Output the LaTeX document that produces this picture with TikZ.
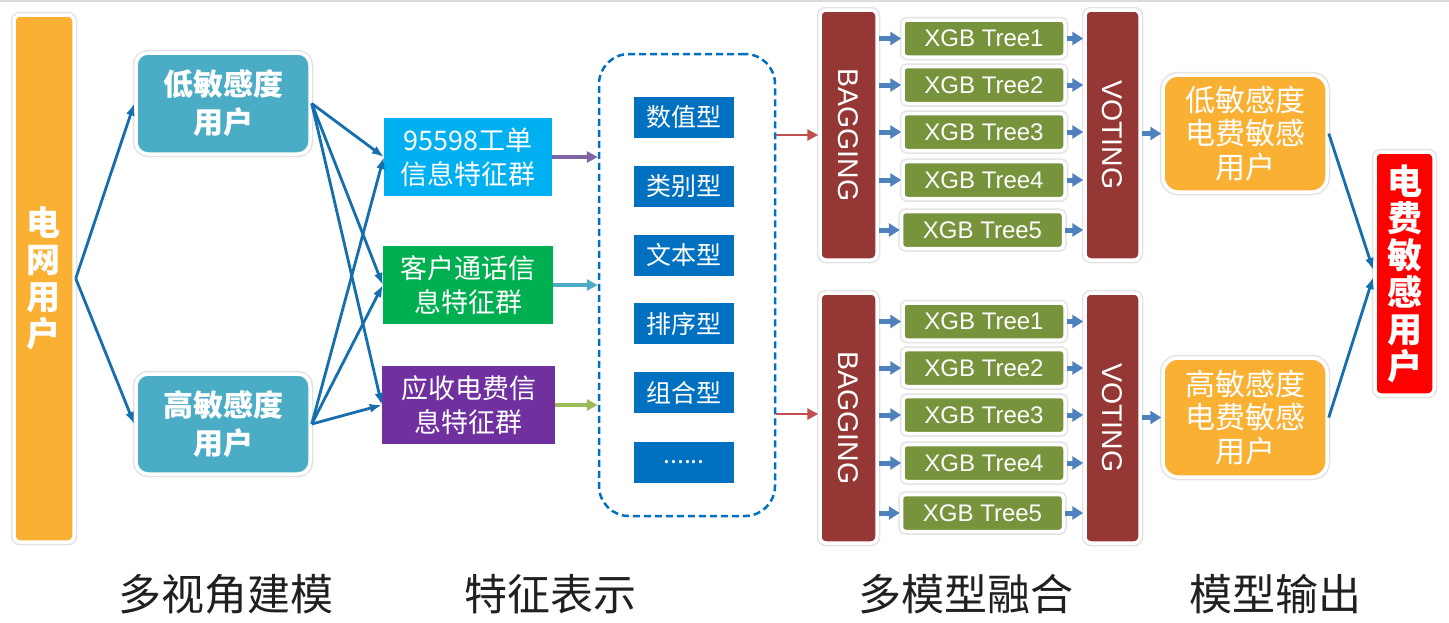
\documentclass[tikz,border=0pt]{standalone}
\usepackage{fontspec}
\setmainfont{Liberation Sans}
\newfontfamily\cjk{Noto Sans CJK SC}
\usetikzlibrary{arrows.meta,calc}

\definecolor{cOrange}{HTML}{FAB133}
\definecolor{cTeal}{HTML}{4BACC6}
\definecolor{cCyan}{HTML}{00B0F0}
\definecolor{cGreen}{HTML}{00B050}
\definecolor{cPurple}{HTML}{7030A0}
\definecolor{cBlue}{HTML}{0070C0}
\definecolor{cWine}{HTML}{953735}
\definecolor{cOlive}{HTML}{77933C}
\definecolor{cRed}{HTML}{FF0000}
\definecolor{cLink}{HTML}{156EAE}
\definecolor{cSteel}{HTML}{4F81BD}
\definecolor{cArrRed}{HTML}{C0504D}
\definecolor{cArrPur}{HTML}{8064A2}
\definecolor{cArrTeal}{HTML}{4BACC6}
\definecolor{cArrGreen}{HTML}{9BBB59}
\definecolor{cCaption}{HTML}{231F20}

\begin{document}
\begin{tikzpicture}[x=1pt,y=-1pt,
  card/.style={draw=white, line width=3.5pt,
    preaction={draw=black!11, line width=6.5pt}},
  plainbox/.style={inner sep=0pt, text=white},
  link/.style={draw=cLink, line width=2.8pt, -{Latex[length=12pt,width=9pt]}},
  fatarrow/.style={draw=cSteel, line width=5pt, -{Triangle[length=11pt,width=13pt]}},
  thinarrow/.style={line width=3.3pt, -{Triangle[length=11pt,width=11pt]}},
  caption/.style={font=\cjk\fontsize{43}{43}\selectfont, text=cCaption, inner sep=0pt}
]
\useasboundingbox (0,0) rectangle (1449,622);
\fill[white] (0,0) rectangle (1449,622);
\draw[black!14, line width=2pt] (0,1) -- (1449,1);

% ---- users of the grid ----
\node[card, rounded corners=6pt, fill=cOrange, minimum width=60pt, minimum height=527pt,
      text=white, align=center, font=\cjk\bfseries\fontsize{34}{37}\selectfont] (grid) at (44,278.5)
      {电\\网\\用\\户};

\node[card, rounded corners=12pt, fill=cTeal, minimum width=174pt, minimum height=101pt,
      text=white, align=center, font=\cjk\bfseries\fontsize{30}{38}\selectfont] (lowU) at (223,103.5)
      {低敏感度\\用户};
\node[card, rounded corners=12pt, fill=cTeal, minimum width=174pt, minimum height=100pt,
      text=white, align=center, font=\cjk\bfseries\fontsize{30}{38}\selectfont] (highU) at (223,424)
      {高敏感度\\用户};

% ---- feature groups ----
\tikzset{feat/.style={plainbox, minimum height=78pt, align=center,
  font=\cjk\fontsize{27}{34}\selectfont}}
\node[feat, fill=cCyan, minimum width=168pt] (fA) at (468,157) {95598工单\\信息特征群};
\node[feat, fill=cGreen, minimum width=170pt] (fB) at (468,285) {客户通话信\\息特征群};
\node[feat, fill=cPurple, minimum width=173pt] (fC) at (468.5,405) {应收电费信\\息特征群};

% ---- feature representation pool ----
\node[draw=cBlue, line width=2.5pt, dash pattern=on 7pt off 4pt, rounded corners=30pt,
      minimum width=176pt, minimum height=462pt] (pool) at (687,285) {};
\tikzset{kind/.style={plainbox, fill=cBlue, minimum width=100pt, minimum height=41pt,
  font=\cjk\fontsize{25}{25}\selectfont}}
\node[kind] (k1) at (684,117.5) {数值型};
\node[kind] (k2) at (684,186.5) {类别型};
\node[kind] (k3) at (684,255) {文本型};
\node[kind] (k4) at (684,323.5) {排序型};
\node[kind] (k5) at (684,392.5) {组合型};
\node[kind] (k6) at (684,462.5) {......};

% ---- ensembles ----
\foreach \k/\dy in {A/0,B/283}{
  \node[card, rounded corners=6pt, fill=cWine, minimum width=57pt, minimum height=250pt] (bag\k) at (848.5,135+\dy) {};
  \node[rotate=-90, text=white, inner sep=0pt, font=\fontsize{28.5}{28.5}\selectfont] (bagT\k) at (bag\k) {BAGGING};
  \node[card, rounded corners=6pt, fill=cWine, minimum width=55pt, minimum height=250pt] (vot\k) at (1112.5,135+\dy) {};
  \node[rotate=-90, text=white, inner sep=0pt, font=\fontsize{28.5}{28.5}\selectfont] (votT\k) at (vot\k) {VOTING};
  \foreach \i/\ty/\tx in {1/38.5/984,2/85/984,3/132/984,4/180/984,5/230/982.5}{
    \node[card, rounded corners=4pt, fill=cOlive, minimum width=162pt, minimum height=37pt,
          text=white, font=\fontsize{24}{24}\selectfont] (tr\k\i) at (\tx,\ty+\dy) {XGB Tree\i};
    \draw[fatarrow] (bag\k.east |- tr\k\i.west) -- (tr\k\i.west);
    \draw[fatarrow] (tr\k\i.east) -- (vot\k.west |- tr\k\i.east);
  }
}

% ---- outputs ----
\node[card, rounded corners=15pt, fill=cOrange, minimum width=164pt, minimum height=117pt,
      text=white, align=center, font=\cjk\fontsize{30}{33.5}\selectfont] (outA) at (1245,133.5)
      {低敏感度\\电费敏感\\用户};
\node[card, rounded corners=15pt, fill=cOrange, minimum width=164pt, minimum height=119pt,
      text=white, align=center, font=\cjk\fontsize{30}{33.5}\selectfont] (outB) at (1245,417.5)
      {高敏感度\\电费敏感\\用户};
\node[card, rounded corners=6pt, fill=cRed, minimum width=59pt, minimum height=243pt,
      text=white, align=center, font=\cjk\bfseries\fontsize{35}{37}\selectfont] (final) at (1404.5,273.5)
      {电\\费\\敏\\感\\用\\户};

% ---- connectors ----
\draw[link] (grid.east) -- (lowU.west);
\draw[link] (grid.east) -- (highU.west);
\foreach \u in {lowU,highU}{
  \foreach \f in {fA,fB,fC}{
    \draw[link] (\u.east) -- (\f.west);
  }
}
\draw[thinarrow, draw=cArrPur] (fA.east) -- (pool.west |- fA.east);
\draw[thinarrow, draw=cArrTeal] (fB.east) -- (pool.west |- fB.east);
\draw[thinarrow, draw=cArrGreen] (fC.east) -- (pool.west |- fC.east);
\draw[thinarrow, draw=cArrRed, line width=2.8pt] (pool.east |- bagA.west) -- (bagA.west);
\draw[thinarrow, draw=cArrRed, line width=2.8pt] ($(pool.east |- bagB.west)+(0,-4)$) -- ($(bagB.west)+(0,-4)$);
\draw[fatarrow] (votA.east |- outA.west) -- (outA.west);
\draw[fatarrow] (votB.east |- outB.west) -- (outB.west);
\draw[link] (outA.east) -- ($(final.west)+(0,-3.5)$);
\draw[link] (outB.east) -- ($(final.west)+(0,3.5)$);

% ---- stage captions ----
\node[caption] (capA) at (226,594) {多视角建模};
\node[caption] (capB) at (550,594) {特征表示};
\node[caption] (capC) at (966,594) {多模型融合};
\node[caption] (capD) at (1275,594) {模型输出};
\end{tikzpicture}
\end{document}
